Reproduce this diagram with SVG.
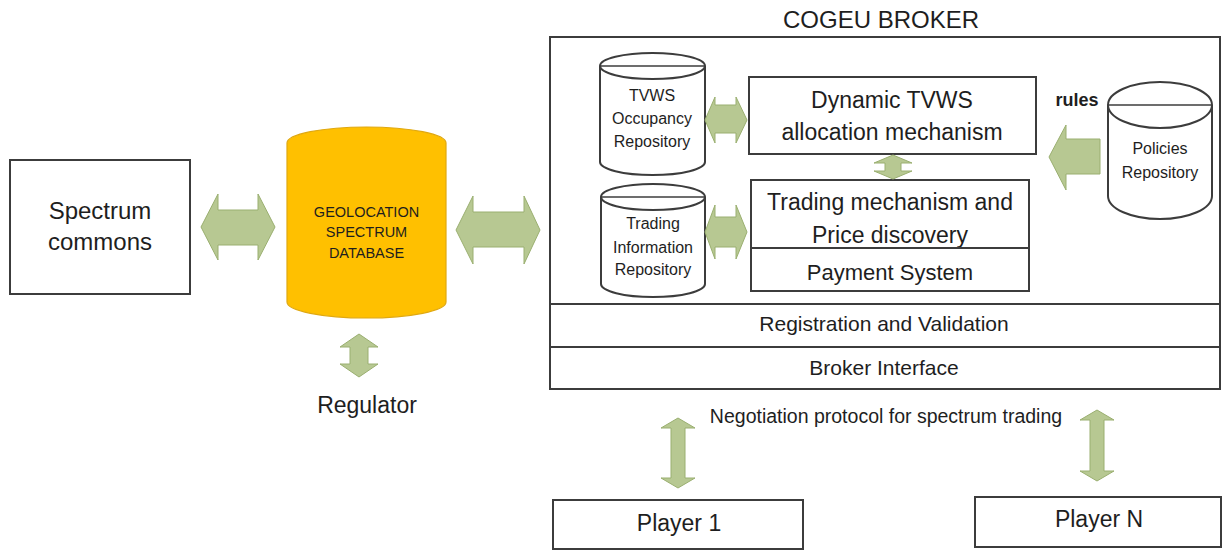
<svg xmlns="http://www.w3.org/2000/svg" width="1225" height="550" viewBox="0 0 1225 550">
<style>
text{font-family:"Liberation Sans",Arial,sans-serif;fill:#1e1e1e;text-anchor:middle}
.box{fill:#fff;stroke:#3c3c3c;stroke-width:2}
.cyl{fill:#fff;stroke:#3c3c3c;stroke-width:2}
.arr{fill:#B7C892;stroke:#9AAF70;stroke-width:1}
</style>
<rect width="1225" height="550" fill="#fff"/>
<g id="spectrum-commons">
<rect class="box" x="10" y="160" width="180" height="134"/>
<text x="100" y="219" font-size="24">Spectrum</text>
<text x="100" y="250" font-size="24">commons</text>
</g>
<g id="geolocation-db">
<path d="M287,143 A79.5,16 0 0 1 446,143 L446,302 A79.5,16 0 0 1 287,302 Z" fill="#FFC000" stroke="#E0A810" stroke-width="1.2"/>
<text x="366.5" y="217" font-size="14.5">GEOLOCATION</text>
<text x="366.5" y="237" font-size="14.5">SPECTRUM</text>
<text x="366.5" y="258" font-size="14.5">DATABASE</text>
</g>
<g id="regulator">
<text x="367" y="413" font-size="23">Regulator</text>
</g>
<g id="cogeu-broker">
<text x="881" y="28" font-size="24">COGEU BROKER</text>
<rect class="box" x="550" y="37" width="670" height="352"/>
<line x1="550" y1="304" x2="1220" y2="304" stroke="#3c3c3c" stroke-width="2"/>
<line x1="550" y1="347" x2="1220" y2="347" stroke="#3c3c3c" stroke-width="2"/>
</g>
<g id="registration">
<text x="884" y="331" font-size="21">Registration and Validation</text>
</g>
<g id="broker-interface">
<text x="884" y="375" font-size="21">Broker Interface</text>
</g>
<g id="tvws-occupancy-repo">
<path class="cyl" d="M600,66 L600,162 A52.5,13 0 0 0 705,162 L705,66"/>
<ellipse class="cyl" cx="652.5" cy="66" rx="52.5" ry="13"/>
<line x1="600" y1="66" x2="705" y2="66" stroke="#3c3c3c" stroke-width="1.5"/>
<text x="652" y="101" font-size="16">TVWS</text>
<text x="652" y="124" font-size="16">Occupancy</text>
<text x="652" y="147" font-size="16">Repository</text>
</g>
<g id="trading-info-repo">
<path class="cyl" d="M601,197 L601,284 A52,13 0 0 0 705,284 L705,197"/>
<ellipse class="cyl" cx="653" cy="197" rx="52" ry="13"/>
<line x1="601" y1="197" x2="705" y2="197" stroke="#3c3c3c" stroke-width="1.5"/>
<text x="653" y="229" font-size="16">Trading</text>
<text x="653" y="253" font-size="16">Information</text>
<text x="653" y="275" font-size="16">Repository</text>
</g>
<g id="dynamic-allocation">
<rect class="box" x="749" y="77" width="287" height="77"/>
<text x="892" y="108" font-size="23">Dynamic TVWS</text>
<text x="892" y="140" font-size="23">allocation mechanism</text>
</g>
<g id="trading-mechanism">
<rect class="box" x="751" y="180" width="278" height="68"/>
<text x="890" y="210" font-size="23">Trading mechanism and</text>
<text x="890" y="243" font-size="23">Price discovery</text>
</g>
<g id="payment-system">
<rect class="box" x="751" y="248" width="278" height="43"/>
<text x="890" y="280" font-size="22">Payment System</text>
</g>
<g id="policies-repo">
<path class="cyl" d="M1108,105 L1108,196 A52,23 0 0 0 1212,196 L1212,105"/>
<ellipse class="cyl" cx="1160" cy="105" rx="52" ry="23"/>
<line x1="1108" y1="105" x2="1212" y2="105" stroke="#3c3c3c" stroke-width="1.5"/>
<text x="1160" y="154" font-size="16">Policies</text>
<text x="1160" y="178" font-size="16">Repository</text>
</g>
<g id="player-1">
<rect class="box" x="553" y="500" width="250" height="49"/>
<text x="679" y="531" font-size="23">Player 1</text>
</g>
<g id="player-n">
<rect class="box" x="975" y="497" width="246" height="50"/>
<text x="1099" y="527" font-size="23">Player N</text>
</g>
<g id="connectors">
<path class="arr" d="M201,227 L218,194 L218,210 L258,210 L258,194 L275,227 L258,260 L258,245 L218,245 L218,260 Z"/>
<path class="arr" d="M456,230 L473,196 L473,212 L524,212 L524,196 L540,230 L524,264 L524,247 L473,247 L473,264 Z"/>
<path class="arr" d="M359,334 L378,347 L368,347 L368,364 L378,364 L359,377 L340,364 L350,364 L350,347 L340,347 Z"/>
<path class="arr" d="M705,120 L715,97 L715,105 L736,105 L736,97 L747,120 L736,143 L736,133 L715,133 L715,143 Z"/>
<path class="arr" d="M705,232 L715,205 L715,217 L736,217 L736,205 L747,232 L736,259 L736,247 L715,247 L715,259 Z"/>
<path class="arr" d="M893,155 L912,163 L901,163 L901,171 L912,171 L893,179 L874,171 L885,171 L885,163 L874,163 Z"/>
<path class="arr" d="M1049,157 L1066,125 L1066,139 L1100,139 L1100,174 L1066,174 L1066,190 Z"/>
<text x="1077" y="106" font-size="18" font-weight="bold">rules</text>
<path class="arr" d="M678,418 L695,428 L685,428 L685,478 L695,478 L678,488 L661,478 L671,478 L671,428 L661,428 Z"/>
<path class="arr" d="M1097,410 L1114,420 L1104,420 L1104,471 L1114,471 L1097,481 L1080,471 L1090,471 L1090,420 L1080,420 Z"/>
<text x="886" y="423" font-size="19.5">Negotiation protocol for spectrum trading</text>
</g>
</svg>
